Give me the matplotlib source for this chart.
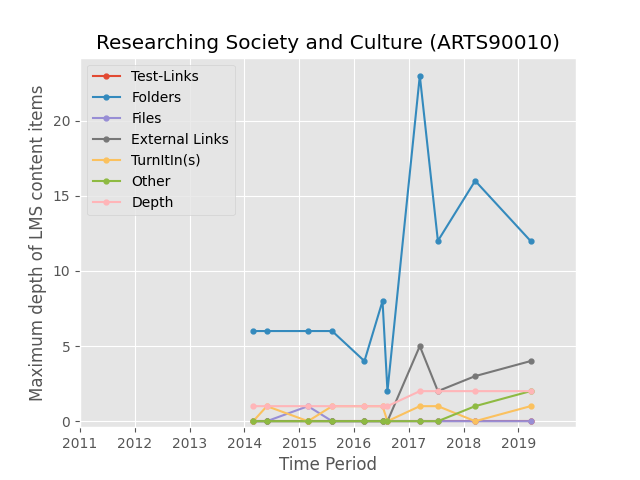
import matplotlib
matplotlib.use("Agg")
import matplotlib.pyplot as plt

plt.style.use("ggplot")

# fractional years of each snapshot
periods = [2014.16, 2014.41, 2015.16, 2015.6, 2016.19, 2016.52, 2016.61,
           2017.2, 2017.53, 2018.21, 2019.22]

test_links = [0, 0, 0, 0, 0, 0, 0, 0, 0, 0, 0]
folders = [6, 6, 6, 6, 4, 8, 2, 23, 12, 16, 12]
files = [0, 0, 1, 0, 0, 0, 0, 0, 0, 0, 0]
external_links = [0, 0, 0, 0, 0, 0, 0, 5, 2, 3, 4]
turnitin = [0, 1, 0, 1, 1, 1, 0, 1, 1, 0, 1]
other = [0, 0, 0, 0, 0, 0, 0, 0, 0, 1, 2]
depth = [1, 1, 1, 1, 1, 1, 1, 2, 2, 2, 2]

series = [
    ("Test-Links", test_links, "#E24A33"),
    ("Folders", folders, "#348ABD"),
    ("Files", files, "#988ED5"),
    ("External Links", external_links, "#777777"),
    ("TurnItIn(s)", turnitin, "#FBC15E"),
    ("Other", other, "#8EBA42"),
    ("Depth", depth, "#FFB5B8"),
]

fig, ax = plt.subplots(figsize=(6.4, 4.8), dpi=100)
for name, vals, color in series:
    ax.plot(periods, vals, marker="o", markersize=3.5, color=color, label=name)

ax.set_xlim(2011, 2020.05)
ax.set_ylim(-0.4, 24.2)
ax.set_xticks(range(2011, 2020))
ax.set_xlabel("Time Period")
ax.set_ylabel("Maximum depth of LMS content items")
ax.set_title("Researching Society and Culture (ARTS90010)")
ax.legend(loc="upper left")

fig.savefig("out.png", dpi=100)
